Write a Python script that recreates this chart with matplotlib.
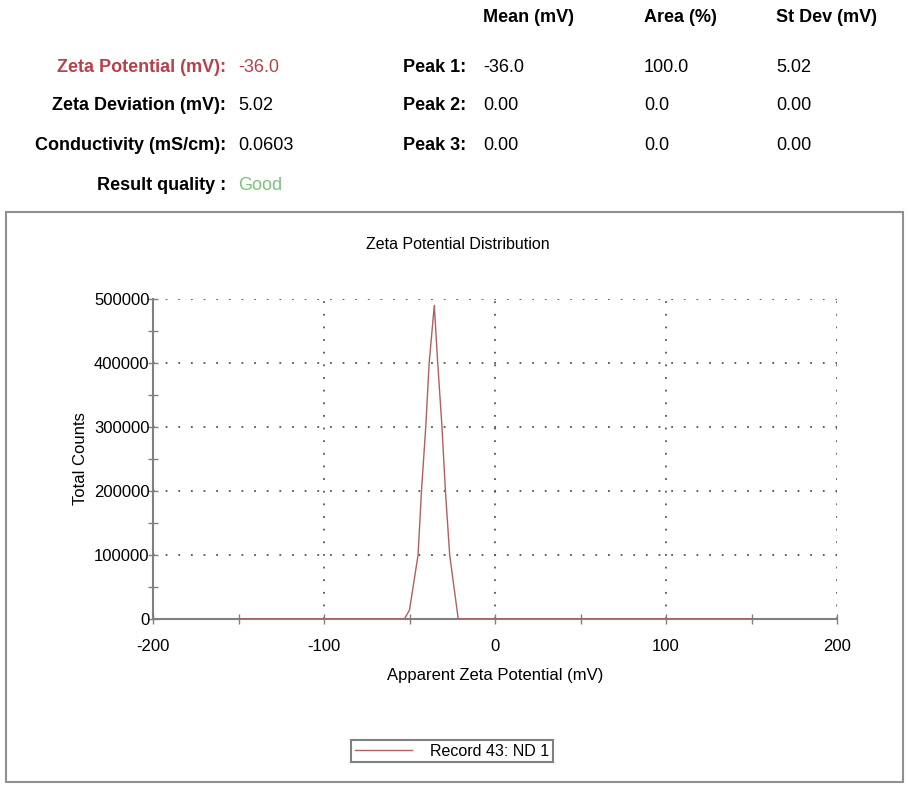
import matplotlib.pyplot as plt
from matplotlib.patches import Rectangle
from matplotlib.ticker import MultipleLocator

# 数据
zeta_mv = [-150, -53, -50, -45, -43, -40.5, -38.5, -35.5, -33.5, -31, -29, -26.5, -21.5, 150]
counts = [0, 0, 14000, 100000, 200000, 300000, 400000, 490000, 400000, 300000, 200000, 100000, 0, 0]

summary_labels = ['Zeta Potential (mV):', 'Zeta Deviation (mV):', 'Conductivity (mS/cm):', 'Result quality :']
summary_values = ['-36.0', '5.02', '0.0603', 'Good']
peak_labels = ['Peak 1:', 'Peak 2:', 'Peak 3:']
col_heads = ['Mean (mV)', 'Area (%)', 'St Dev (mV)']
peak_mean = ['-36.0', '0.00', '0.00']
peak_area = ['100.0', '0.0', '0.0']
peak_sd = ['5.02', '0.00', '0.00']

W, H = 908, 786
plt.rcParams['font.family'] = ['Liberation Sans', 'DejaVu Sans']
plt.rcParams['axes.unicode_minus'] = False

fig = plt.figure(figsize=(W / 100, H / 100), dpi=100)


def px(x, y):
    return x / W, 1 - y / H


red = '#b8404a'
green = '#7cc07c'
hs = 13

# 表头
for i, t in enumerate(col_heads):
    fig.text(*px([483, 644, 776][i], 18), t, fontsize=hs, fontweight='bold', va='center')

rows_y = [67, 106, 146, 185]
for i, t in enumerate(summary_labels):
    c = red if i == 0 else 'black'
    fig.text(*px(226, rows_y[i]), t, fontsize=hs, fontweight='bold',
             ha='right', va='center', color=c)
    vc = red if i == 0 else (green if i == 3 else 'black')
    fig.text(*px(238, rows_y[i]), summary_values[i], fontsize=hs, va='center', color=vc)

for i, t in enumerate(peak_labels):
    y = rows_y[i]
    fig.text(*px(466, y), t, fontsize=hs, fontweight='bold', ha='right', va='center')
    fig.text(*px(483, y), peak_mean[i], fontsize=hs, va='center')
    fig.text(*px(644, y), peak_area[i], fontsize=hs, va='center')
    fig.text(*px(776, y), peak_sd[i], fontsize=hs, va='center')

# 外框
fig.patches.append(Rectangle((6 / W, 1 - 782 / H), 897 / W, 570 / H, transform=fig.transFigure,
                             fill=False, edgecolor='#909090', linewidth=1.5))

ax = fig.add_axes([153 / W, 1 - 619 / H, 684 / W, 320 / H])
ax.plot(zeta_mv, counts, color='#b06060', linewidth=1.0, label='Record 43: ND 1', zorder=3)
ax.set_xlim(-200, 200)
ax.set_ylim(0, 500000)
ax.xaxis.set_major_locator(MultipleLocator(100))
ax.xaxis.set_minor_locator(MultipleLocator(50))
ax.yaxis.set_major_locator(MultipleLocator(100000))
ax.yaxis.set_minor_locator(MultipleLocator(50000))
ax.grid(True, which='major', linestyle=(0, (1, 6)), color='#555555', linewidth=1.3)
for s in ['top', 'right']:
    ax.spines[s].set_visible(False)
for s in ['left', 'bottom']:
    ax.spines[s].set_color('#808080')
    ax.spines[s].set_linewidth(1.5)
ax.tick_params(which='both', direction='inout', color='#808080', labelsize=12, width=1, length=7)
ax.tick_params(axis='y', pad=-1)
ax.tick_params(axis='x', pad=11)
ax.set_title('Zeta Potential Distribution', fontsize=11.5, pad=36)
ax.set_xlabel('Apparent Zeta Potential (mV)', fontsize=12, labelpad=10)
ax.set_ylabel('Total Counts', fontsize=12, labelpad=4)
ax.title.set_position((0.445, 1))

leg = fig.legend(loc='center', bbox_to_anchor=(452 / W, 1 - 751 / H), fontsize=11.5,
                 fancybox=False, edgecolor='#808080', handlelength=3.6, framealpha=1,
                 borderpad=0.25, handletextpad=1.1)
leg.get_frame().set_linewidth(1.5)

fig.savefig('out.png', dpi=100)
